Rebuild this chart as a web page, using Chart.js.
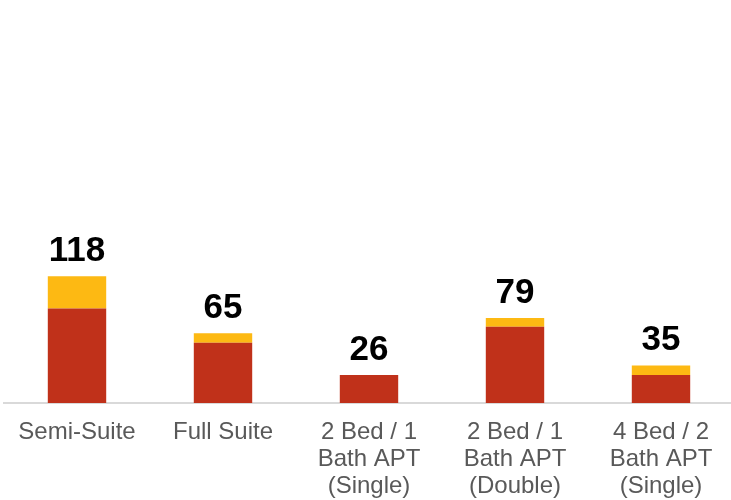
<!DOCTYPE html>
<html>
<head>
<meta charset="utf-8">
<script src="https://cdn.jsdelivr.net/npm/chart.js@4.4.1/dist/chart.umd.min.js"></script>
<style>
  html, body { margin: 0; padding: 0; background: #fff; overflow: hidden; }
  #wrap { width: 738px; height: 500px; position: relative; }
</style>
</head>
<body>
<div id="wrap"><canvas id="grafik"></canvas></div>
<script>
// Kategori kamar dan jumlah per bagian tumpukan
const kategori = [
  'Semi-Suite',
  'Full Suite',
  ['2 Bed / 1', 'Bath APT', '(Single)'],
  ['2 Bed / 1', 'Bath APT', '(Double)'],
  ['4 Bed / 2', 'Bath APT', '(Single)']
];
const nilaiMerah = [88, 56, 26, 71, 26];
const nilaiKuning = [30, 9, 0, 8, 9];

const warnaMerah = '#C0311A';
const warnaKuning = '#FDB913';

// Plugin kecil untuk menulis total di atas tiap tumpukan
const labelTotal = {
  id: 'labelTotal',
  afterDatasetsDraw(chart) {
    const { ctx, scales } = chart;
    const meta = chart.getDatasetMeta(0);
    ctx.save();
    ctx.font = 'bold 35px "Liberation Sans", Arial, sans-serif';
    ctx.fillStyle = '#000';
    ctx.textAlign = 'center';
    ctx.textBaseline = 'alphabetic';
    meta.data.forEach((bar, i) => {
      const total = nilaiMerah[i] + nilaiKuning[i];
      const y = scales.y.getPixelForValue(total);
      ctx.fillText(String(total), bar.x, y - 15);
    });
    ctx.restore();
  }
};

function tampilkanGrafik() {
  const canvas = document.getElementById('grafik');
  if (!canvas) return;

  new Chart(canvas.getContext('2d'), {
    type: 'bar',
    data: {
      labels: kategori,
      datasets: [
        { label: 'Merah', data: nilaiMerah, backgroundColor: warnaMerah, borderWidth: 0 },
        { label: 'Kuning', data: nilaiKuning, backgroundColor: warnaKuning, borderWidth: 0 }
      ]
    },
    options: {
      responsive: true,
      maintainAspectRatio: false,
      animation: false,
      events: [],
      layout: { padding: { left: 4, right: 4, top: 0, bottom: 0 } },
      datasets: {
        bar: { barPercentage: 0.4, categoryPercentage: 1 }
      },
      plugins: {
        legend: { display: false },
        tooltip: { enabled: false }
      },
      scales: {
        x: {
          stacked: true,
          grid: { display: false, drawTicks: false },
          border: { display: true, color: '#D9D9D9', width: 2 },
          ticks: {
            color: '#595959',
            padding: 16,
            maxRotation: 0,
            autoSkip: false,
            font: { family: '"Liberation Sans", Arial, sans-serif', size: 24, lineHeight: 1.13 }
          },
          afterFit(scale) { scale.height = 97; }
        },
        y: {
          stacked: true,
          display: false,
          min: 0,
          max: 375
        }
      }
    },
    plugins: [labelTotal]
  });
}

document.addEventListener('DOMContentLoaded', tampilkanGrafik);
</script>
</body>
</html>
